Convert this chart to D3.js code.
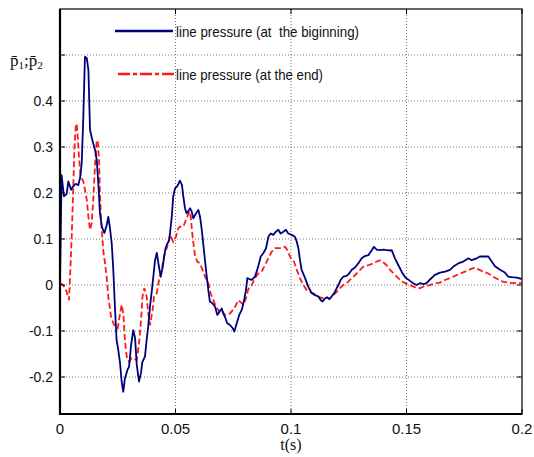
<!DOCTYPE html>
<html>
<head>
<meta charset="utf-8">
<script src="https://cdn.jsdelivr.net/npm/d3@7"></script>
<style>
  body { margin: 0; background: #fff; }
  svg { display: block; }
</style>
</head>
<body>
<svg width="534" height="457"></svg>
<script>
// line pressure at the beginning (blue, solid)
const tBegin = [0, 0.0007, 0.0017, 0.0029, 0.0036, 0.0048, 0.0056, 0.0068, 0.0079, 0.0087,
  0.0094, 0.0101, 0.0108, 0.0116, 0.0123, 0.0130, 0.0140, 0.0152, 0.0159, 0.0166,
  0.0173, 0.0181, 0.0192, 0.0202, 0.0209, 0.0216, 0.0224, 0.0231, 0.0238, 0.0245,
  0.0252, 0.0260, 0.0267, 0.0274, 0.0281, 0.0293, 0.0299, 0.0307, 0.0317, 0.0325,
  0.0332, 0.0342, 0.0351, 0.0356, 0.0368, 0.0375, 0.0382, 0.0390, 0.0397, 0.0404,
  0.0411, 0.0419, 0.0426, 0.0436, 0.0445, 0.0455, 0.0462, 0.0473, 0.0484, 0.0490,
  0.0498, 0.0508, 0.0519, 0.0528, 0.0534, 0.0541, 0.0548, 0.0555, 0.0563, 0.0570,
  0.0577, 0.0589, 0.0599, 0.0606, 0.0613, 0.0623, 0.0632, 0.0642, 0.0649, 0.0661,
  0.0671, 0.0681, 0.0690, 0.0700, 0.0707, 0.0714, 0.0724, 0.0736, 0.0748, 0.0755,
  0.0765, 0.0776, 0.0787, 0.0797, 0.0805, 0.0811, 0.0819, 0.0830, 0.0844, 0.0858,
  0.0869, 0.0880, 0.0892, 0.0902, 0.0912, 0.0923, 0.0935, 0.0945, 0.0955, 0.0967,
  0.0978, 0.0988, 0.1003, 0.1017, 0.1025, 0.1032, 0.1039, 0.1046, 0.1061, 0.1075,
  0.1090, 0.1104, 0.1118, 0.1129, 0.1137, 0.1147, 0.1157, 0.1166, 0.1176, 0.1190,
  0.1205, 0.1215, 0.1226, 0.1241, 0.1252, 0.1263, 0.1277, 0.1291, 0.1306, 0.1320,
  0.1335, 0.1349, 0.1359, 0.1371, 0.1385, 0.1400, 0.1414, 0.1429, 0.1436, 0.1450,
  0.1465, 0.1479, 0.1494, 0.1515, 0.1529, 0.1544, 0.1558, 0.1573, 0.1587, 0.1602,
  0.1623, 0.1645, 0.1667, 0.1688, 0.1703, 0.1724, 0.1746, 0.1768, 0.1782, 0.1804,
  0.1818, 0.1840, 0.1854, 0.1869, 0.1883, 0.1905, 0.1926, 0.1941, 0.1955, 0.1977, 0.2000];
const pBegin = [0, 0.239, 0.193, 0.198, 0.225, 0.207, 0.214, 0.220, 0.217, 0.233,
  0.265, 0.366, 0.496, 0.493, 0.467, 0.337, 0.315, 0.293, 0.272, 0.220,
  0.156, 0.127, 0.113, 0.130, 0.148, 0.125, 0.090, 0.030, -0.050, -0.120,
  -0.140, -0.170, -0.210, -0.232, -0.203, -0.183, -0.178, -0.134, -0.098, -0.115,
  -0.172, -0.210, -0.190, -0.168, -0.155, -0.120, -0.090, -0.045, -0.015, 0.018,
  0.052, 0.070, 0.047, 0.018, 0.040, 0.076, 0.087, 0.098, 0.149, 0.192,
  0.210, 0.215, 0.227, 0.217, 0.192, 0.167, 0.156, 0.160, 0.167, 0.160,
  0.145, 0.156, 0.163, 0.149, 0.123, 0.076, 0.033, -0.011, -0.036, -0.040,
  -0.047, -0.065, -0.058, -0.051, -0.062, -0.069, -0.083, -0.087, -0.094, -0.101,
  -0.083, -0.065, -0.054, -0.033, -0.011, 0.015, 0.013, 0.011, 0.018, 0.040,
  0.062, 0.069, 0.080, 0.105, 0.112, 0.109, 0.116, 0.120, 0.112, 0.116,
  0.120, 0.112, 0.109, 0.105, 0.094, 0.080, 0.054, 0.033, 0.015, -0.004,
  -0.018, -0.022, -0.025, -0.033, -0.036, -0.029, -0.027, -0.031, -0.025, -0.015,
  0.000, 0.011, 0.018, 0.020, 0.025, 0.033, 0.038, 0.047, 0.058, 0.063,
  0.065, 0.075, 0.083, 0.077, 0.076, 0.077, 0.076, 0.075, 0.076, 0.058,
  0.043, 0.029, 0.017, 0.009, 0.004, 0.000, 0.004, 0.002, 0.004, 0.012,
  0.022, 0.027, 0.029, 0.033, 0.040, 0.047, 0.051, 0.058, 0.054, 0.058,
  0.062, 0.062, 0.062, 0.051, 0.041, 0.033, 0.027, 0.018, 0.017, 0.016, 0.013];

// line pressure at the end (red, dashed)
const tEnd = [0, 0.0014, 0.0029, 0.0039, 0.0043, 0.0051, 0.0058, 0.0062, 0.0068, 0.0072,
  0.0077, 0.0082, 0.0088, 0.0094, 0.0101, 0.0108, 0.0116, 0.0123, 0.0130, 0.0137,
  0.0144, 0.0152, 0.0159, 0.0163, 0.0169, 0.0173, 0.0177, 0.0183, 0.0187, 0.0195,
  0.0202, 0.0209, 0.0221, 0.0231, 0.0238, 0.0250, 0.0260, 0.0267, 0.0274, 0.0281,
  0.0289, 0.0299, 0.0310, 0.0322, 0.0332, 0.0342, 0.0351, 0.0357, 0.0365, 0.0375,
  0.0382, 0.0390, 0.0401, 0.0407, 0.0419, 0.0426, 0.0440, 0.0450, 0.0459, 0.0469,
  0.0476, 0.0484, 0.0490, 0.0502, 0.0512, 0.0519, 0.0534, 0.0548, 0.0560, 0.0566,
  0.0574, 0.0584, 0.0594, 0.0606, 0.0617, 0.0628, 0.0635, 0.0642, 0.0652, 0.0664,
  0.0675, 0.0685, 0.0693, 0.0704, 0.0714, 0.0724, 0.0736, 0.0748, 0.0758, 0.0772,
  0.0779, 0.0794, 0.0805, 0.0815, 0.0830, 0.0844, 0.0858, 0.0873, 0.0887, 0.0902,
  0.0916, 0.0931, 0.0945, 0.0960, 0.0974, 0.0984, 0.0993, 0.1003, 0.1013, 0.1025,
  0.1039, 0.1053, 0.1068, 0.1082, 0.1097, 0.1111, 0.1126, 0.1140, 0.1154, 0.1169,
  0.1183, 0.1198, 0.1212, 0.1226, 0.1241, 0.1255, 0.1270, 0.1284, 0.1299, 0.1313,
  0.1335, 0.1356, 0.1371, 0.1385, 0.1400, 0.1414, 0.1429, 0.1450, 0.1472, 0.1494,
  0.1515, 0.1537, 0.1558, 0.1580, 0.1602, 0.1623, 0.1645, 0.1667, 0.1688, 0.1710,
  0.1732, 0.1753, 0.1775, 0.1797, 0.1811, 0.1833, 0.1854, 0.1876, 0.1897, 0.1919,
  0.1941, 0.1963, 0.2000];
const pEnd = [0.004, 0.000, -0.015, -0.033, 0.011, 0.110, 0.221, 0.293, 0.344, 0.351,
  0.322, 0.279, 0.243, 0.232, 0.225, 0.207, 0.185, 0.148, 0.120, 0.134,
  0.185, 0.265, 0.312, 0.315, 0.272, 0.199, 0.148, 0.105, 0.076, 0.047,
  0.018, -0.025, -0.069, -0.083, -0.090, -0.094, -0.062, -0.043, -0.062, -0.120,
  -0.156, -0.167, -0.159, -0.161, -0.163, -0.127, -0.076, -0.025, -0.007, -0.025,
  -0.062, -0.087, -0.054, -0.025, -0.018, 0.004, 0.033, 0.062, 0.076, 0.091,
  0.109, 0.101, 0.094, 0.105, 0.123, 0.127, 0.127, 0.145, 0.160, 0.149,
  0.105, 0.065, 0.051, 0.047, 0.033, 0.018, 0.011, 0.004, -0.018, -0.033,
  -0.047, -0.054, -0.062, -0.058, -0.065, -0.062, -0.062, -0.054, -0.047, -0.033,
  -0.036, -0.043, -0.029, -0.009, 0.000, 0.015, 0.025, 0.029, 0.043, 0.058,
  0.072, 0.080, 0.080, 0.080, 0.083, 0.076, 0.065, 0.054, 0.051, 0.033,
  0.015, 0.000, -0.011, -0.015, -0.018, -0.022, -0.027, -0.029, -0.027, -0.029,
  -0.022, -0.015, -0.007, 0.000, 0.004, 0.011, 0.018, 0.025, 0.033, 0.040,
  0.043, 0.047, 0.051, 0.054, 0.049, 0.043, 0.033, 0.022, 0.011, 0.004,
  0.000, -0.005, -0.007, -0.002, 0.000, 0.004, 0.005, 0.011, 0.015, 0.020,
  0.025, 0.029, 0.034, 0.038, 0.034, 0.029, 0.025, 0.018, 0.012, 0.007,
  0.005, 0.004, 0.004];

const xTicks = [0, 0.05, 0.1, 0.15, 0.2];
const xTickLabels = ["0", "0.05", "0.1", "0.15", "0.2"];
const yTicks = [0.5, 0.4, 0.3, 0.2, 0.1, 0, -0.1, -0.2];
const yTickLabels = ["", "0.4", "0.3", "0.2", "0.1", "0", "-0.1", "-0.2"];
const legendLabels = ["line pressure (at  the biginning)", "line pressure (at the end)"];

const svg = d3.select("svg"),
      margin = { top: 9, right: 12, bottom: 43, left: 60 },
      width = +svg.attr("width") - margin.left - margin.right,
      height = +svg.attr("height") - margin.top - margin.bottom;

const g = svg.append("g").attr("transform", `translate(${margin.left},${margin.top})`);

const x = d3.scaleLinear().domain([0, 0.2]).range([0, width]);
const y = d3.scaleLinear().domain([-0.2804, 0.6]).range([height, 0]);

svg.append("defs").append("clipPath").attr("id", "plot")
  .append("rect").attr("width", width).attr("height", height);

// grid (dotted)
const grid = g.append("g")
  .attr("stroke", "#777")
  .attr("stroke-width", 1)
  .attr("stroke-dasharray", "1,2");
grid.selectAll(".gx").data(xTicks.slice(1, -1)).enter().append("line")
  .attr("x1", d => x(d)).attr("x2", d => x(d))
  .attr("y1", 0).attr("y2", height);
grid.selectAll(".gy").data(yTicks).enter().append("line")
  .attr("x1", 0).attr("x2", width)
  .attr("y1", d => y(d)).attr("y2", d => y(d));

// curves
const line = d3.line().x(d => x(d[0])).y(d => y(d[1]));
const beginData = tBegin.map((t, i) => [t, pBegin[i]]);
const endData = tEnd.map((t, i) => [t, pEnd[i]]);

const curves = g.append("g").attr("clip-path", "url(#plot)");
curves.append("path").datum(endData)
  .attr("fill", "none").attr("stroke", "#ff1a1a")
  .attr("stroke-width", 1.8).attr("stroke-dasharray", "6,3")
  .attr("d", line);
curves.append("path").datum(beginData)
  .attr("fill", "none").attr("stroke", "#00007f")
  .attr("stroke-width", 1.8).attr("stroke-linejoin", "round")
  .attr("d", line);

// frame
g.append("rect").attr("width", width).attr("height", height)
  .attr("fill", "none").attr("stroke", "#333").attr("stroke-width", 1.5);
g.append("path").attr("d", `M0,0V${height}H${width}`)
  .attr("fill", "none").attr("stroke", "#000").attr("stroke-width", 2.2);

// inner ticks on all sides
const tickLen = 5;
const ticks = g.append("g").attr("stroke", "#000").attr("stroke-width", 1);
xTicks.forEach(d => {
  ticks.append("line").attr("x1", x(d)).attr("x2", x(d)).attr("y1", height).attr("y2", height - tickLen);
  ticks.append("line").attr("x1", x(d)).attr("x2", x(d)).attr("y1", 0).attr("y2", tickLen);
});
yTicks.forEach(d => {
  ticks.append("line").attr("x1", 0).attr("x2", tickLen).attr("y1", y(d)).attr("y2", y(d));
  ticks.append("line").attr("x1", width).attr("x2", width - tickLen).attr("y1", y(d)).attr("y2", y(d));
});

// tick labels
g.append("g").selectAll("text").data(xTicks).enter().append("text")
  .attr("x", d => x(d)).attr("y", height + 20)
  .attr("text-anchor", "middle")
  .attr("font-family", "Liberation Sans, Arial, sans-serif")
  .attr("font-size", "15px").attr("fill", "#111")
  .text((d, i) => xTickLabels[i]);

g.append("g").selectAll("text").data(yTicks).enter().append("text")
  .attr("x", -7).attr("y", d => y(d)).attr("dy", "0.36em")
  .attr("text-anchor", "end")
  .attr("font-family", "Liberation Sans, Arial, sans-serif")
  .attr("font-size", "14px").attr("fill", "#111")
  .text((d, i) => yTickLabels[i]);

// axis titles
svg.append("text")
  .attr("x", margin.left + width / 2).attr("y", 450)
  .attr("text-anchor", "middle")
  .attr("font-family", "Liberation Serif, Times New Roman, serif")
  .attr("font-size", "16px").attr("fill", "#111")
  .text("t(s)");

// y label: p-bar with subscripts (combining macron)
const yl = svg.append("text")
  .attr("x", 10).attr("y", 66)
  .attr("font-family", "Liberation Serif, Times New Roman, serif")
  .attr("font-size", "17px").attr("fill", "#111");
yl.append("tspan").text("p\u0304");
yl.append("tspan").attr("font-size", "11px").attr("dy", 3).text("1");
yl.append("tspan").attr("dy", -3).text(";");
yl.append("tspan").text("p\u0304");
yl.append("tspan").attr("font-size", "11px").attr("dy", 3).text("2");

// legend (no box)
const legend = svg.append("g");
legend.append("line")
  .attr("x1", 115).attr("x2", 173).attr("y1", 31).attr("y2", 31)
  .attr("stroke", "#00007f").attr("stroke-width", 2.5);
legend.append("line")
  .attr("x1", 118).attr("x2", 174).attr("y1", 74).attr("y2", 74)
  .attr("stroke", "#ff1a1a").attr("stroke-width", 2.5)
  .attr("stroke-dasharray", "12,3,4,3");
const legendTextLen = [183, 147];
legendLabels.forEach((s, i) => {
  legend.append("text")
    .attr("x", 176).attr("y", i === 0 ? 37 : 80)
    .attr("font-family", "Liberation Sans, Arial, sans-serif")
    .attr("font-size", "15px").attr("fill", "#111")
    .attr("textLength", legendTextLen[i])
    .attr("lengthAdjust", "spacingAndGlyphs")
    .style("white-space", "pre")
    .text(s);
});
</script>
</body>
</html>
